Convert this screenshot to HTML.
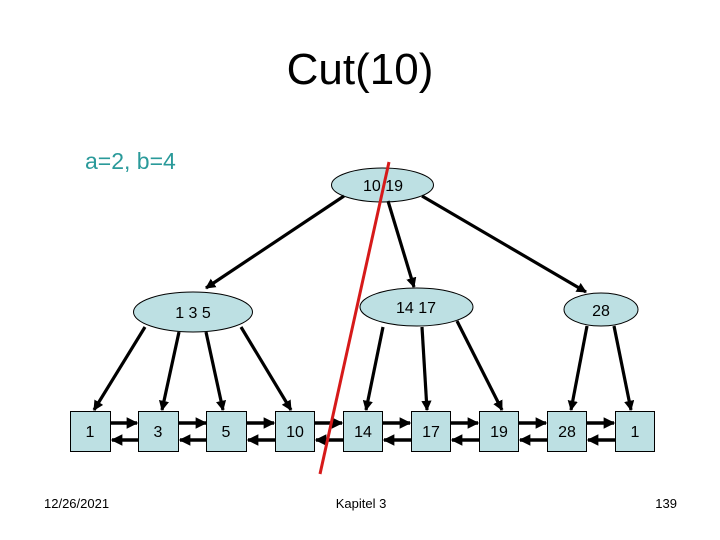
<!DOCTYPE html>
<html><head><meta charset="utf-8"><style>
html,body{margin:0;padding:0;background:#fff;}
svg{display:block;}
text{font-family:"Liberation Sans",Arial,sans-serif;}
</style></head><body>
<svg width="720" height="540" viewBox="0 0 720 540" xmlns="http://www.w3.org/2000/svg">
<defs>
<marker id="a" viewBox="0 0 10 10" refX="9" refY="5" markerWidth="3.2" markerHeight="3.2" orient="auto" markerUnits="strokeWidth">
<path d="M0,0 L10,5 L0,10 z" fill="#000"/></marker>
</defs>
<text x="360" y="84" font-size="44" text-anchor="middle">Cut(10)</text>
<text x="85" y="169" font-size="23" fill="#2a9a9a">a=2, b=4</text>

<g fill="#bde0e3" stroke="#000" stroke-width="1">
<ellipse cx="382.5" cy="185" rx="51" ry="17"/>
<ellipse cx="193" cy="312" rx="59.5" ry="20"/>
<ellipse cx="416.5" cy="307" rx="56.5" ry="19"/>
<ellipse cx="601" cy="309.5" rx="37" ry="16.5"/>
</g>
<g font-size="16" text-anchor="middle">
<text x="383" y="191">10 19</text>
<text x="193" y="318">1  3  5</text>
<text x="193" y="318" fill="none"></text>
<text x="416" y="313">14  17</text>
<text x="601" y="316">28</text>
</g>

<g stroke="#000" stroke-width="3.2" fill="none" marker-end="url(#a)">
<line x1="344" y1="196" x2="206" y2="288"/>
<line x1="388" y1="201" x2="414" y2="287"/>
<line x1="422" y1="196" x2="586" y2="292"/>
<line x1="145" y1="327" x2="94" y2="410"/>
<line x1="179" y1="332" x2="162" y2="410"/>
<line x1="206" y1="332" x2="223" y2="410"/>
<line x1="241" y1="327" x2="291" y2="410"/>
<line x1="383" y1="327" x2="366" y2="410"/>
<line x1="422" y1="327" x2="427" y2="410"/>
<line x1="457" y1="321" x2="502" y2="410"/>
<line x1="587" y1="326" x2="571" y2="410"/>
<line x1="614" y1="326" x2="631" y2="410"/>
</g>

<g stroke="#000" stroke-width="3.6" fill="none" marker-end="url(#a)">
<line x1="111" y1="423" x2="137" y2="423"/><line x1="138" y1="440" x2="112" y2="440"/>
<line x1="179" y1="423" x2="206" y2="423"/><line x1="206" y1="440" x2="180" y2="440"/>
<line x1="247" y1="423" x2="274" y2="423"/><line x1="275" y1="440" x2="248" y2="440"/>
<line x1="315" y1="423" x2="342" y2="423"/><line x1="343" y1="440" x2="316" y2="440"/>
<line x1="383" y1="423" x2="410" y2="423"/><line x1="411" y1="440" x2="384" y2="440"/>
<line x1="451" y1="423" x2="478" y2="423"/><line x1="479" y1="440" x2="452" y2="440"/>
<line x1="519" y1="423" x2="546" y2="423"/><line x1="547" y1="440" x2="520" y2="440"/>
<line x1="587" y1="423" x2="614" y2="423"/><line x1="615" y1="440" x2="588" y2="440"/>
</g>

<g fill="#bde0e3" stroke="#000" stroke-width="1">
<rect x="70.5" y="411.5" width="40" height="40"/>
<rect x="138.5" y="411.5" width="40" height="40"/>
<rect x="206.5" y="411.5" width="40" height="40"/>
<rect x="275.5" y="411.5" width="39" height="40"/>
<rect x="343.5" y="411.5" width="39" height="40"/>
<rect x="411.5" y="411.5" width="39" height="40"/>
<rect x="479.5" y="411.5" width="39" height="40"/>
<rect x="547.5" y="411.5" width="39" height="40"/>
<rect x="615.5" y="411.5" width="39" height="40"/>
</g>
<g font-size="16" text-anchor="middle">
<text x="90" y="437">1</text>
<text x="158" y="437">3</text>
<text x="226" y="437">5</text>
<text x="295" y="437">10</text>
<text x="363" y="437">14</text>
<text x="431" y="437">17</text>
<text x="499" y="437">19</text>
<text x="567" y="437">28</text>
<text x="635" y="437">1</text>
</g>

<line x1="389" y1="162" x2="320" y2="474" stroke="#d61a1a" stroke-width="3"/>

<g font-size="13">
<text x="44" y="508">12/26/2021</text>
<text x="361" y="508" text-anchor="middle">Kapitel 3</text>
<text x="677" y="508" text-anchor="end">139</text>
</g>
</svg>
</body></html>
